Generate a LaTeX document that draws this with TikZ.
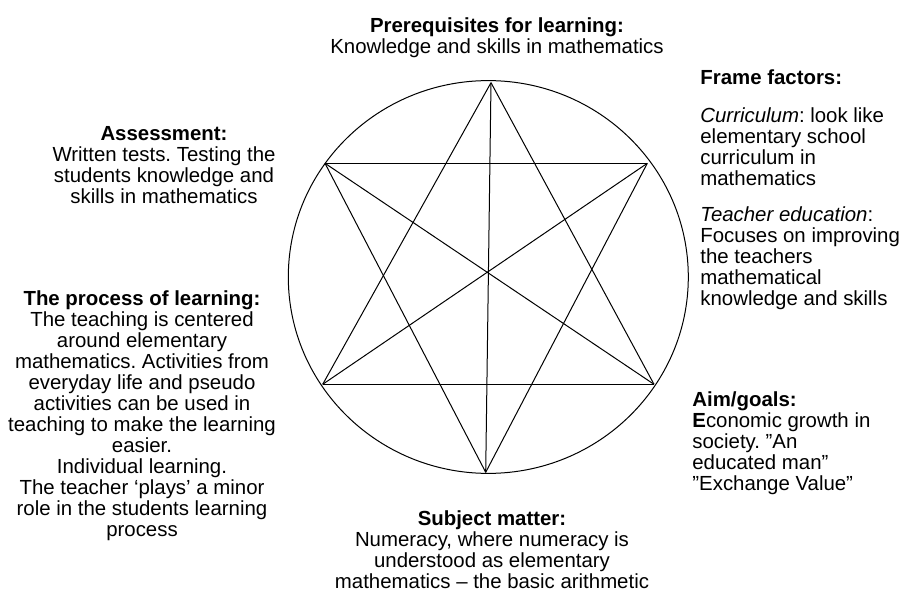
\documentclass[tikz,border=0pt]{standalone}
\usepackage{fontspec}
\setmainfont{Liberation Sans}
\frenchspacing
\usetikzlibrary{positioning}
\begin{document}
\begin{tikzpicture}[x=0.5pt, y=-0.5pt,
        txt/.style={inner sep=0pt, font=\fontsize{10.2}{10.5}\selectfont},
        edge/.style={line width=0.5pt, black}]
        \useasboundingbox (0,0) rectangle (900,599);

        % 1. The circle and the six points of the star
        \draw[edge] (488.3,277) ellipse [x radius=100pt, y radius=98.2pt];
        \coordinate (top) at (491,82.7);
        \coordinate (bot) at (485.7,472.3);
        \coordinate (ul) at (325,163.3);
        \coordinate (ur) at (647.3,163.3);
        \coordinate (ll) at (322.7,384.3);
        \coordinate (lr) at (654,384.3);

        % 2. Two triangles and the three lines through the centre
        \foreach \a/\b in {top/ll, ll/lr, lr/top, bot/ul, ul/ur, ur/bot, top/bot, ul/lr, ur/ll} {
            \draw[edge] (\a) -- (\b);
        }

        % 3. The texts round the circle
        \node[txt, align=center, anchor=north] (prereq) at (497,17) {\textbf{Prerequisites for learning:}\\Knowledge and skills in mathematics};

        \node[txt, align=left, anchor=north west] (frame) at (700,69) {\textbf{Frame factors:}\\[8.5pt]
            \textit{Curriculum}: look like\\elementary school\\curriculum in\\mathematics\\[7.5pt]
            \textit{Teacher education}:\\Focuses on improving\\the teachers\\mathematical\\knowledge and skills};

        \node[txt, align=center, anchor=north] (assess) at (164,126) {\textbf{Assessment:}\\Written tests. Testing the\\students knowledge and\\skills in mathematics};

        \node[txt, align=center, anchor=north] (process) at (142,290) {\textbf{The process of learning:}\\
            The teaching is centered\\around elementary\\mathematics. Activities from\\everyday life and pseudo\\
            activities can be used in\\teaching to make the learning\\easier.\\Individual learning.\\
            The teacher ‘plays’ a minor\\role in the students learning\\process};

        \node[txt, align=left, anchor=north west] (aim) at (692,391) {\textbf{Aim/goals:}\\\textbf{E}conomic growth in\\society. ”An\\educated man”\\”Exchange Value”};

        \node[txt, align=center, anchor=north] (subject) at (492,510) {\textbf{Subject matter:}\\Numeracy, where numeracy is\\understood as elementary\\mathematics – the basic arithmetic};

    \end{tikzpicture}
\end{document}
